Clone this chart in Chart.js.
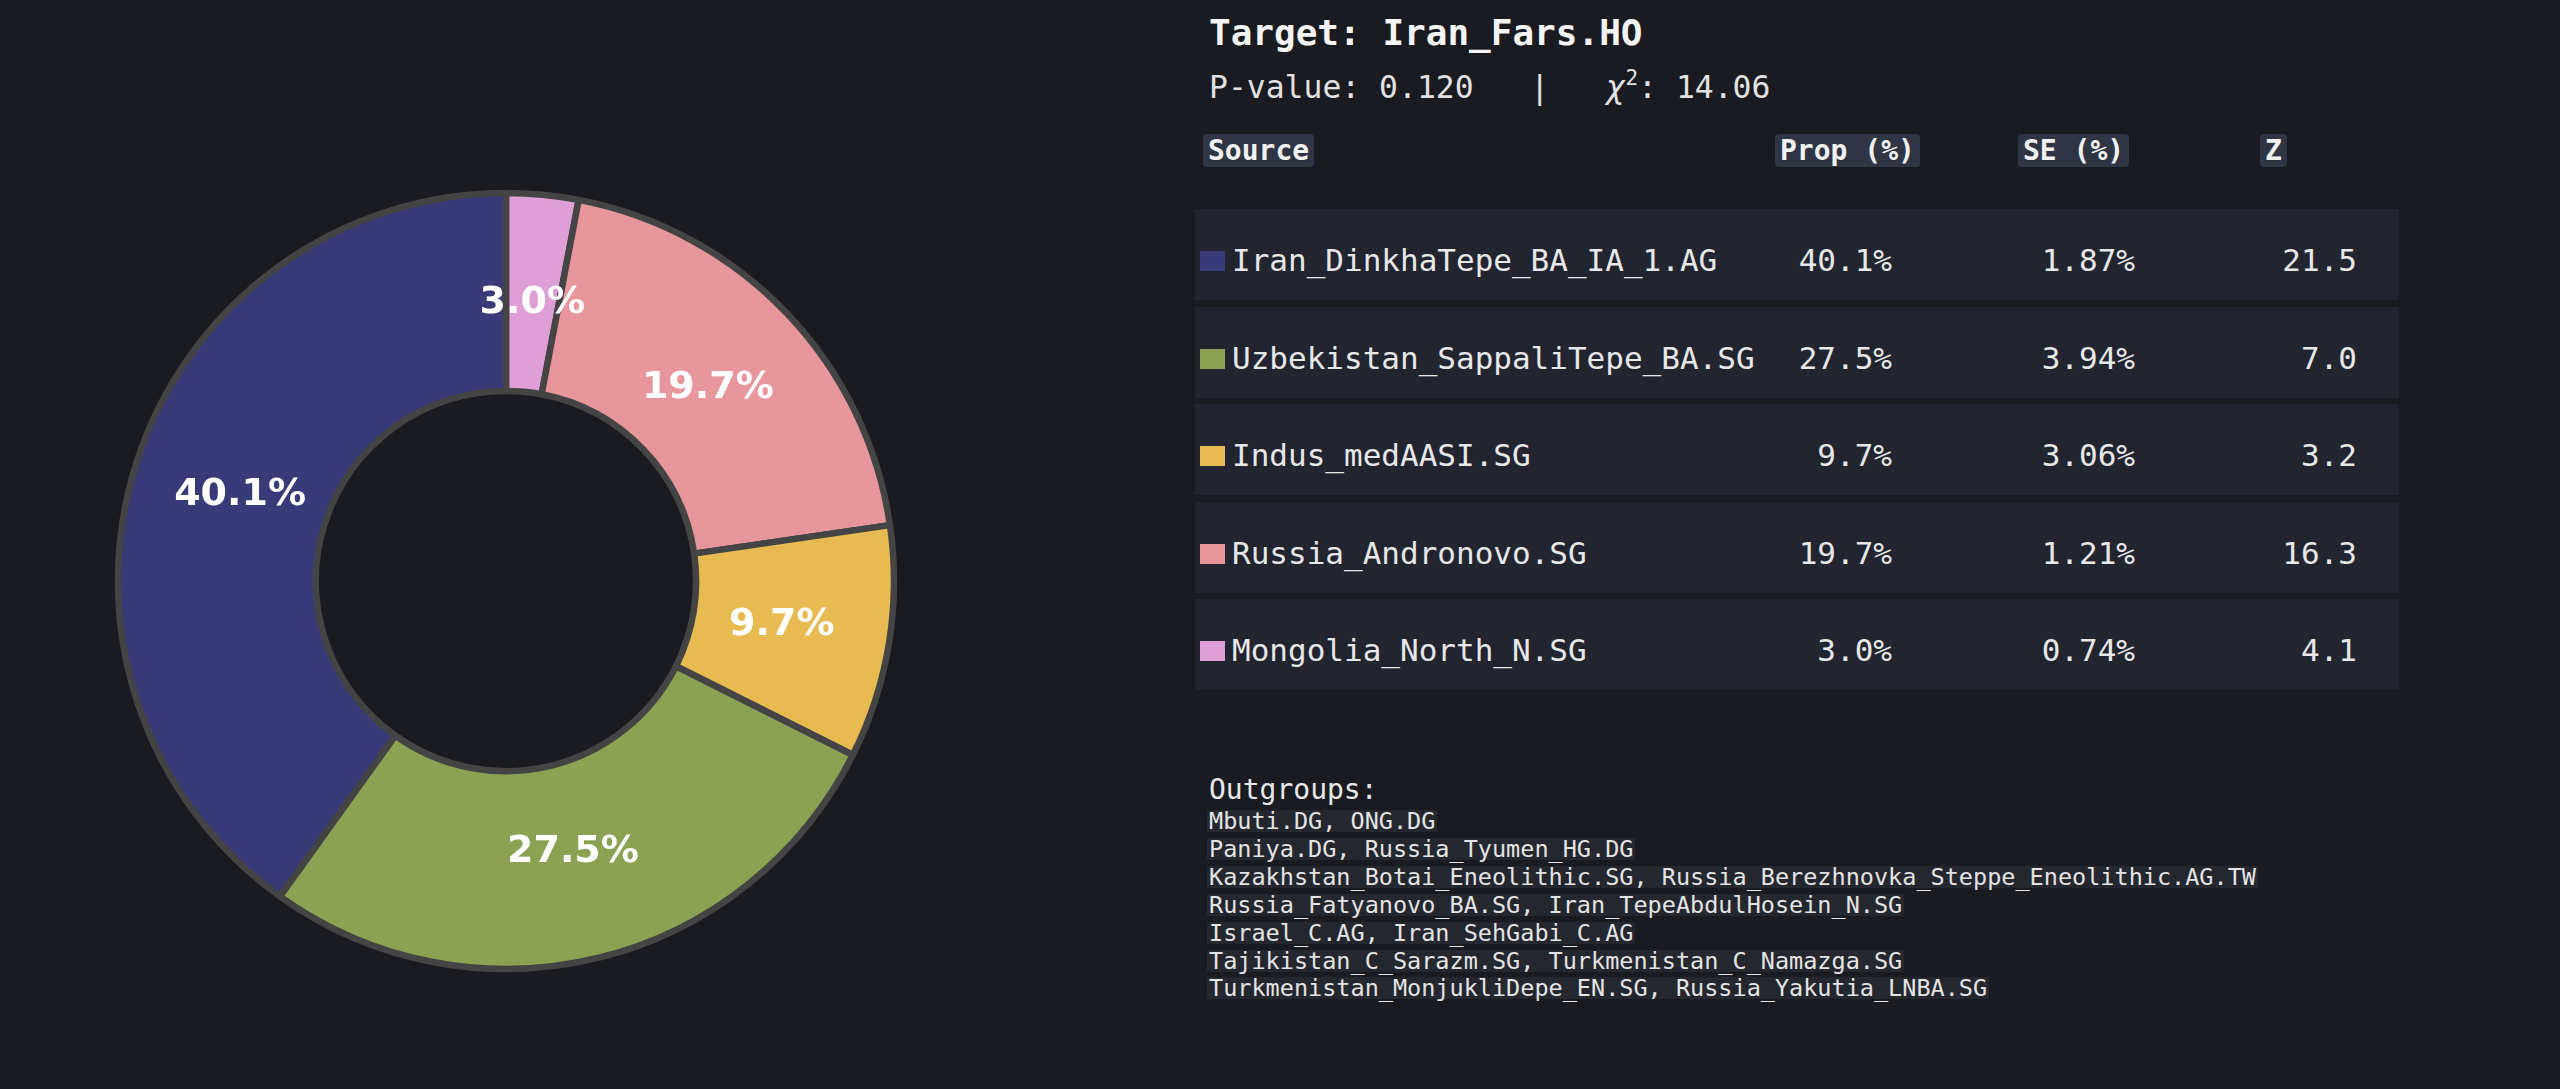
<!DOCTYPE html>
<html>
<head>
<meta charset="utf-8">
<script src="https://cdn.jsdelivr.net/npm/chart.js@4"></script>
<style>
    html, body {
        margin: 0;
        padding: 0;
        width: 2560px;
        height: 1089px;
        background: #1a1b20;
        overflow: hidden;
        font-family: "DejaVu Sans Mono", monospace;
        color: #eeeeee;
    }
    #donut-wrap {
        position: absolute;
        left: 106px;
        top: 181px;
        width: 800px;
        height: 800px;
    }
    .txt {
        position: absolute;
        white-space: pre;
    }
    .hdr {
        position: absolute;
        top: 134px;
        font-size: 28px;
        font-weight: bold;
        line-height: 28px;
        padding: 2.5px 5px;
        background: #2f3545;
        border-radius: 4px;
        color: #f2f2f2;
    }
    .row-bg {
        position: absolute;
        left: 1195px;
        width: 1204px;
        height: 91px;
        background: #222530;
    }
    .swatch {
        position: absolute;
        left: 1200px;
        width: 25px;
        height: 20px;
    }
    .cell {
        font-size: 31px;
        height: 40px;
        line-height: 40px;
        color: #e8e8e8;
    }
    .og {
        position: absolute;
        left: 1207px;
        font-size: 23.5px;
        line-height: 22px;
        padding: 0 2px;
        background: #25272e;
        color: #e4e4e4;
        white-space: pre;
    }
</style>
</head>
<body>
<div id="donut-wrap"><canvas id="donut"></canvas></div>
<div id="panel"></div>

<script>
// ---- data ----
const target    = "Iran_Fars.HO";
const pValue    = "0.120";
const chiSq     = "14.06";

const sources   = [
    "Iran_DinkhaTepe_BA_IA_1.AG",
    "Uzbekistan_SappaliTepe_BA.SG",
    "Indus_medAASI.SG",
    "Russia_Andronovo.SG",
    "Mongolia_North_N.SG"
];
const props     = [40.1, 27.5, 9.7, 19.7, 3.0];
const ses       = [1.87, 3.94, 3.06, 1.21, 0.74];
const zScores   = [21.5, 7.0, 3.2, 16.3, 4.1];
const colors    = ["#393b79", "#8ca252", "#e7ba52", "#e7969c", "#de9ed6"];

const outgroups = [
    "Mbuti.DG, ONG.DG",
    "Paniya.DG, Russia_Tyumen_HG.DG",
    "Kazakhstan_Botai_Eneolithic.SG, Russia_Berezhnovka_Steppe_Eneolithic.AG.TW",
    "Russia_Fatyanovo_BA.SG, Iran_TepeAbdulHosein_N.SG",
    "Israel_C.AG, Iran_SehGabi_C.AG",
    "Tajikistan_C_Sarazm.SG, Turkmenistan_C_Namazga.SG",
    "Turkmenistan_MonjukliDepe_EN.SG, Russia_Yakutia_LNBA.SG"
];

// ---- text panel ----
const panel = document.getElementById('panel');

function addText(html, left, centerY, size, extra) {
    const el = document.createElement('div');
    el.className = 'txt';
    el.innerHTML = html;
    el.style.left = left + 'px';
    el.style.top = (centerY - size * 0.65) + 'px';
    el.style.fontSize = size + 'px';
    el.style.lineHeight = (size * 1.3) + 'px';
    Object.assign(el.style, extra || {});
    panel.appendChild(el);
    return el;
}

addText(`Target: ${target}`, 1209, 33, 36, { fontWeight: 'bold', color: '#f4f4f4' });
addText(`P-value: ${pValue}   |   <span style="font-family:'DejaVu Sans';font-style:italic">χ</span><sup style="font-size:21px;line-height:0;vertical-align:13px;padding-left:1px">2</sup>: ${chiSq}`,
    1209, 87, 31.4, { color: '#e2e2e2' });

// header labels
[["Source", 1203], ["Prop (%)", 1775], ["SE (%)", 2018], ["Z", 2260]].forEach(([label, x]) => {
    const el = document.createElement('div');
    el.className = 'hdr';
    el.textContent = label;
    el.style.left = x + 'px';
    panel.appendChild(el);
});

// table rows
sources.forEach((name, i) => {
    const top = 209 + i * 97.5;
    const mid = top + 51;

    const bg = document.createElement('div');
    bg.className = 'row-bg';
    bg.style.top = top + 'px';
    panel.appendChild(bg);

    const sw = document.createElement('div');
    sw.className = 'swatch';
    sw.style.background = colors[i];
    sw.style.top = (mid - 9) + 'px';
    panel.appendChild(sw);

    const cells = [
        [name, 1232, 'left'],
        [props[i].toFixed(1) + '%', 1892, 'right'],
        [ses[i].toFixed(2) + '%', 2135, 'right'],
        [zScores[i].toFixed(1), 2357, 'right']
    ];
    cells.forEach(([t, x, align]) => {
        const el = document.createElement('div');
        el.className = 'txt cell';
        el.textContent = t;
        el.style.top = (mid - 20) + 'px';
        if (align === 'left') el.style.left = x + 'px';
        else el.style.right = (2560 - x) + 'px';
        panel.appendChild(el);
    });
});

// outgroups
addText("Outgroups:", 1209, 790, 28, { color: '#e8e8e8' });
outgroups.forEach((line, i) => {
    const el = document.createElement('div');
    el.className = 'og';
    el.textContent = line;
    el.style.top = (821 + i * 27.9 - 11) + 'px';
    panel.appendChild(el);
});

// ---- donut ----
// Chart.js draws clockwise from the top, so reverse to match the reference order
const chartLabels = sources.slice().reverse();
const chartValues = props.slice().reverse();
const chartColors = colors.slice().reverse();

const pctLabels = {
    id: 'pctLabels',
    afterDatasetsDraw(chart) {
        const ctx = chart.ctx;
        const meta = chart.getDatasetMeta(0);
        ctx.save();
        ctx.font = 'bold 38px "DejaVu Sans"';
        ctx.fillStyle = '#ffffff';
        ctx.textAlign = 'center';
        ctx.textBaseline = 'middle';
        meta.data.forEach((arc, i) => {
            const p = arc.getProps(['x', 'y', 'startAngle', 'endAngle', 'outerRadius'], true);
            const a = (p.startAngle + p.endAngle) / 2;
            const r = p.outerRadius * 0.72;
            ctx.fillText(chartValues[i].toFixed(1) + '%', p.x + Math.cos(a) * r, p.y + Math.sin(a) * r);
        });
        ctx.restore();
    }
};

new Chart(document.getElementById('donut'), {
    type: 'doughnut',
    data: {
        labels: chartLabels,
        datasets: [{
            data: chartValues,
            backgroundColor: chartColors,
            borderColor: '#444444',
            borderWidth: 6.5,
            hoverBorderWidth: 6.5,
            borderAlign: 'center'
        }]
    },
    options: {
        responsive: true,
        maintainAspectRatio: false,
        devicePixelRatio: 1,
        animation: false,
        events: [],
        radius: 388,
        cutout: '49%',
        layout: { padding: 0 },
        plugins: {
            legend: { display: false },
            tooltip: { enabled: false }
        }
    },
    plugins: [pctLabels]
});
</script>
</body>
</html>
